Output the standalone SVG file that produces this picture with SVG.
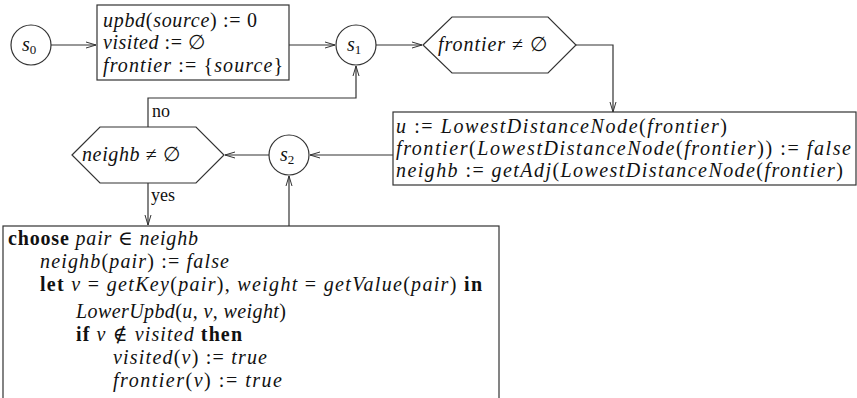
<svg xmlns="http://www.w3.org/2000/svg" width="857" height="398" viewBox="0 0 857 398">
<style>
.s{fill:#fff;stroke:#333;stroke-width:1.2}
.c{fill:none;stroke:#333;stroke-width:1.2}
text{font-family:"Liberation Serif","DejaVu Serif",serif;font-size:20px;fill:#111}
.i{font-style:italic}
.b{font-weight:bold}
.sub{font-size:13px}
.l{font-size:18px}
</style>
<defs>
<marker id="a" markerWidth="11" markerHeight="8" refX="10" refY="4" orient="auto" markerUnits="userSpaceOnUse">
<path d="M0,1 L10,4 L0,7" fill="none" stroke="#333" stroke-width="1"/>
</marker>
</defs>
<rect width="857" height="398" fill="#fff"/>
<g id="connectors">
<path class="c" d="M51,45 H96" marker-end="url(#a)"/>
<path class="c" d="M289,45 H335" marker-end="url(#a)"/>
<path class="c" d="M376,45 H422" marker-end="url(#a)"/>
<path class="c" d="M576,45 H613 V112" marker-end="url(#a)"/>
<path class="c" d="M393,155 H310" marker-end="url(#a)"/>
<path class="c" d="M269,155 H225" marker-end="url(#a)"/>
<path class="c" d="M148,127 V98 H356 V66" marker-end="url(#a)"/>
<path class="c" d="M148,183 V225" marker-end="url(#a)"/>
<path class="c" d="M289,226 V176" marker-end="url(#a)"/>
<text class="l" x="152" y="117">no</text>
<text class="l" x="151" y="201">yes</text>
</g>
<g id="s0">
<circle class="s" cx="31" cy="45" r="20"/>
<text x="22" y="51"><tspan class="i">s</tspan><tspan class="sub" dy="3">0</tspan></text>
</g>
<g id="init">
<rect class="s" x="97" y="5" width="192" height="75"/>
<text x="103" y="27" textLength="154"><tspan class="i">upbd</tspan>(<tspan class="i">source</tspan>) := 0</text>
<text x="103" y="49" textLength="102"><tspan class="i">visited</tspan> := ∅</text>
<text x="103" y="72" textLength="180"><tspan class="i">frontier</tspan> := {<tspan class="i">source</tspan>}</text>
</g>
<g id="s1">
<circle class="s" cx="356" cy="45" r="20"/>
<text x="347" y="51"><tspan class="i">s</tspan><tspan class="sub" dy="3">1</tspan></text>
</g>
<g id="cond1">
<polygon class="s" points="423,45 452,17 548,17 576,45 548,73 452,73"/>
<text x="438" y="51" textLength="109"><tspan class="i">frontier</tspan> ≠ ∅</text>
</g>
<g id="update">
<rect class="s" x="393" y="112" width="463" height="73"/>
<text x="396" y="133" textLength="331"><tspan class="i">u</tspan> := <tspan class="i">LowestDistanceNode</tspan>(<tspan class="i">frontier</tspan>)</text>
<text x="396" y="155" textLength="455"><tspan class="i">frontier</tspan>(<tspan class="i">LowestDistanceNode</tspan>(<tspan class="i">frontier</tspan>)) := <tspan class="i">false</tspan></text>
<text x="396" y="177" textLength="447"><tspan class="i">neighb</tspan> := <tspan class="i">getAdj</tspan>(<tspan class="i">LowestDistanceNode</tspan>(<tspan class="i">frontier</tspan>)</text>
</g>
<g id="s2">
<circle class="s" cx="289" cy="155" r="20"/>
<text x="280" y="161"><tspan class="i">s</tspan><tspan class="sub" dy="3">2</tspan></text>
</g>
<g id="cond2">
<polygon class="s" points="72,155 100,127 196,127 224,155 196,183 100,183"/>
<text x="82" y="161" textLength="98"><tspan class="i">neighb</tspan> ≠ ∅</text>
</g>
<g id="loop">
<rect class="s" x="3" y="226" width="496" height="180"/>
<text x="8" y="245" textLength="190"><tspan class="b">choose</tspan> <tspan class="i">pair</tspan> ∈ <tspan class="i">neighb</tspan></text>
<text x="40" y="268" textLength="189"><tspan class="i">neighb</tspan>(<tspan class="i">pair</tspan>) := <tspan class="i">false</tspan></text>
<text x="40" y="291" textLength="442"><tspan class="b">let</tspan> <tspan class="i">v</tspan> = <tspan class="i">getKey</tspan>(<tspan class="i">pair</tspan>), <tspan class="i">weight</tspan> = <tspan class="i">getValue</tspan>(<tspan class="i">pair</tspan>) <tspan class="b">in</tspan></text>
<text x="76" y="318" textLength="210"><tspan class="i">LowerUpbd</tspan>(<tspan class="i">u</tspan>, <tspan class="i">v</tspan>, <tspan class="i">weight</tspan>)</text>
<text x="76" y="341" textLength="166"><tspan class="b">if</tspan> <tspan class="i">v</tspan> ∉ <tspan class="i">visited</tspan> <tspan class="b">then</tspan></text>
<text x="113" y="364" textLength="154"><tspan class="i">visited</tspan>(<tspan class="i">v</tspan>) := <tspan class="i">true</tspan></text>
<text x="113" y="387" textLength="169"><tspan class="i">frontier</tspan>(<tspan class="i">v</tspan>) := <tspan class="i">true</tspan></text>
</g>
</svg>
